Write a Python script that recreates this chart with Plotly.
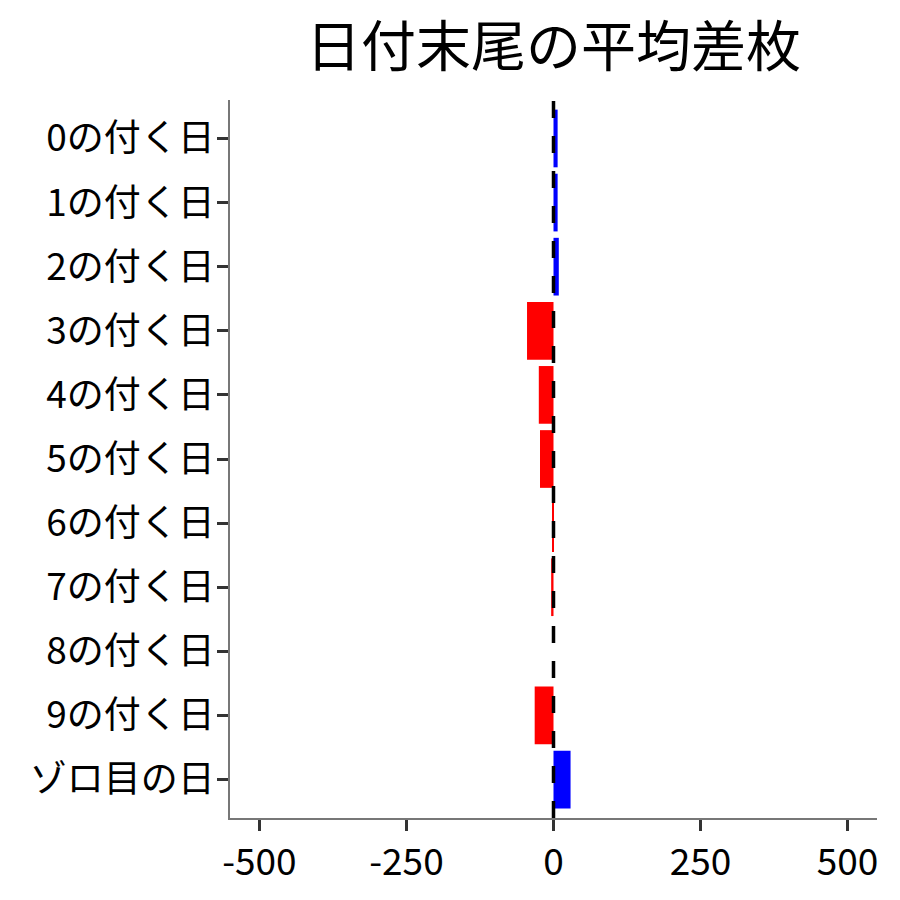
import plotly.graph_objects as go

# 日付末尾ごとの平均差枚
days = ["0の付く日", "1の付く日", "2の付く日", "3の付く日", "4の付く日", "5の付く日",
        "6の付く日", "7の付く日", "8の付く日", "9の付く日", "ゾロ目の日"]
avg_diff = [7, 7, 9, -45, -25, -23, -1.5, -4, 0, -32, 29]

x_ticks = [-500, -250, 0, 250, 500]

colors = ["blue" if v > 0 else "red" for v in avg_diff]

fig = go.Figure()
fig.add_trace(go.Bar(x=avg_diff,
                     y=days,
                     orientation="h",
                     width=0.9,
                     marker=dict(color=colors, line=dict(width=0)),
                     showlegend=False))

fig.add_vline(x=0, line=dict(color="black", width=3.5, dash="17px,18px"))

fig.update_layout(
    width=900,
    height=900,
    title=dict(text="日付末尾の平均差枚", x=0.5, xref="paper", xanchor="center",
               y=0.957, yanchor="middle", font=dict(size=55, color="black")),
    font=dict(family="Noto Sans CJK JP", color="black", size=37),
    paper_bgcolor="white",
    plot_bgcolor="white",
    margin=dict(l=222, r=31, t=92, b=90),
    bargap=0.1,
)

fig.update_xaxes(range=[-550, 550], tickvals=x_ticks, ticktext=[str(v) for v in x_ticks],
                 showgrid=False, zeroline=False, showline=True, linecolor="#777",
                 linewidth=1.5, ticks="outside", ticklen=11, tickwidth=3,
                 tickcolor="#333", tickfont=dict(size=37, color="black"))
fig.update_yaxes(categoryorder="array", categoryarray=days, range=[10.6, -0.6],
                 showgrid=False, zeroline=False, showline=True, linecolor="#777",
                 linewidth=1.5, ticks="outside", ticklen=11, tickwidth=3,
                 tickcolor="#333", tickfont=dict(size=37, color="black"),
                 ticklabelstandoff=-5)

fig.write_html("out.html")
